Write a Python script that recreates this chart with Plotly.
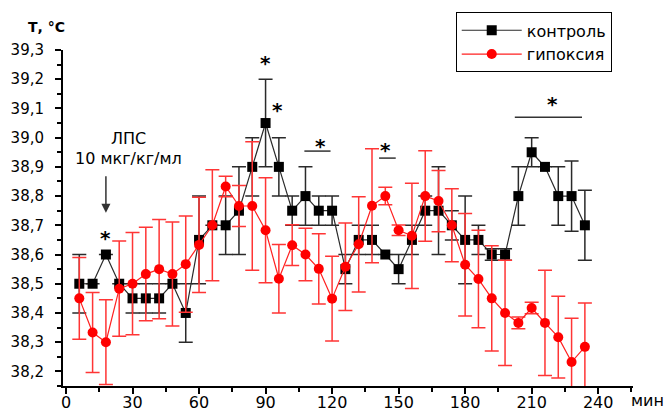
import plotly.graph_objects as go

# time points, minutes
time_min = [6, 12, 18, 24, 30, 36, 42, 48, 54, 60, 66, 72, 78, 84, 90, 96, 102, 108, 114, 120,
            126, 132, 138, 144, 150, 156, 162, 168, 174, 180, 186, 192, 198, 204, 210, 216, 222, 228, 234]

control_t = [38.50, 38.50, 38.60, 38.50, 38.45, 38.45, 38.45, 38.50, 38.40, 38.65,
             38.70, 38.70, 38.75, 38.90, 39.05, 38.90, 38.75, 38.80, 38.75, 38.75,
             38.55, 38.65, 38.65, 38.60, 38.55, 38.65, 38.75, 38.75, 38.70, 38.65,
             38.65, 38.60, 38.60, 38.80, 38.95, 38.90, 38.80, 38.80, 38.70]
control_err = [0.10, 0.0, 0.0, 0.0, 0.05, 0.05, 0.05, 0.0, 0.10, 0.15,
               0.0, 0.10, 0.15, 0.10, 0.15, 0.10, 0.05, 0.10, 0.05, 0.05,
               0.05, 0.05, 0.05, 0.0, 0.05, 0.05, 0.05, 0.15, 0.05, 0.15,
               0.05, 0.02, 0.02, 0.10, 0.05, 0.0, 0.10, 0.12, 0.12]

hypoxia_t = [38.450, 38.333, 38.300, 38.483, 38.500, 38.533, 38.550, 38.533, 38.567, 38.633,
             38.700, 38.833, 38.766, 38.766, 38.683, 38.517, 38.632, 38.600, 38.551, 38.449,
             38.558, 38.635, 38.767, 38.800, 38.683, 38.664, 38.800, 38.783, 38.700, 38.565,
             38.516, 38.450, 38.400, 38.366, 38.417, 38.366, 38.317, 38.232, 38.284]
hypoxia_err = [0.140, 0.137, 0.145, 0.163, 0.175, 0.160, 0.170, 0.178, 0.165, 0.163,
               0.190, 0.035, 0.070, 0.220, 0.180, 0.117, 0.070, 0.090, 0.120, 0.145,
               0.150, 0.163, 0.195, 0.030, 0.018, 0.180, 0.155, 0.105, 0.125, 0.175,
               0.167, 0.180, 0.180, 0.020, 0.020, 0.180, 0.140, 0.150, 0.150]

series_names = ["контроль", "гипоксия"]
x_ticks = [0, 30, 60, 90, 120, 150, 180, 210, 240]
y_ticks = [38.2, 38.3, 38.4, 38.5, 38.6, 38.7, 38.8, 38.9, 39.0, 39.1, 39.2, 39.3]

# significance marks: star positions (x, y) and bars (x0, x1, y)
star_x = [18, 90, 95.5, 114.6, 143.9, 219.4]
star_y = [38.67, 39.27, 39.11, 38.986, 38.97, 39.13]
bar_x0 = [107.5, 141.2, 202.4]
bar_x1 = [119.3, 148.7, 232.7]
bar_y = [38.954, 38.93, 39.07]

# LPS injection arrow
lps_x = 18
lps_y_from = 38.873
lps_y_to = 38.743

FONT = "DejaVu Sans"

fig = go.Figure()
fig.add_trace(go.Scatter(
    x=time_min, y=control_t, name=series_names[0], mode="lines+markers",
    line=dict(color="#2a2a2a", width=1.2),
    marker=dict(symbol="square", size=10, color="black"),
    error_y=dict(type="data", array=control_err, visible=True, color="#2a2a2a",
                 thickness=1.5, width=7),
))
fig.add_trace(go.Scatter(
    x=time_min, y=hypoxia_t, name=series_names[1], mode="lines+markers",
    line=dict(color="#ff2020", width=1.2),
    marker=dict(symbol="circle", size=10, color="#ff0000"),
    error_y=dict(type="data", array=hypoxia_err, visible=True, color="#ff3535",
                 thickness=1.5, width=7),
))

annotations = []
for sx, sy in zip(star_x, star_y):
    annotations.append(dict(x=sx, y=sy, xref="x", yref="y", text="<b>*</b>", showarrow=False,
                            font=dict(family=FONT, size=20, color="black"),
                            xanchor="center", yanchor="middle", yshift=-4))
shapes = []
for a, b, c in zip(bar_x0, bar_x1, bar_y):
    shapes.append(dict(type="line", xref="x", yref="y", x0=a, x1=b, y0=c, y1=c,
                       line=dict(color="#333333", width=1.5)))

annotations.append(dict(x=lps_x, y=lps_y_to, ax=lps_x, ay=lps_y_from, xref="x", yref="y",
                        axref="x", ayref="y", text="", showarrow=True, arrowhead=2,
                        arrowsize=1.2, arrowwidth=1.5, arrowcolor="#333333"))
annotations.append(dict(x=28, y=38.997, xref="x", yref="y", text="ЛПС", showarrow=False,
                        font=dict(family=FONT, size=16, color="black"),
                        xanchor="center", yanchor="middle"))
annotations.append(dict(x=28, y=38.928, xref="x", yref="y", text="10 мкг/кг/мл", showarrow=False,
                        font=dict(family=FONT, size=16, color="black"),
                        xanchor="center", yanchor="middle"))
annotations.append(dict(x=0.007, y=1.067, xref="paper", yref="paper", text="<b>Т, °С</b>",
                        showarrow=False, font=dict(family=FONT, size=14, color="black"),
                        xanchor="right", yanchor="middle"))
annotations.append(dict(x=1.058, y=-0.044, xref="paper", yref="paper", text="мин",
                        showarrow=False, font=dict(family=FONT, size=16, color="black"),
                        xanchor="right", yanchor="middle"))

fig.update_layout(
    width=672, height=412,
    margin=dict(l=63, r=39, t=47, b=26),
    paper_bgcolor="white", plot_bgcolor="white",
    separators=", ",
    font=dict(family=FONT, color="black"),
    showlegend=True,
    legend=dict(x=0.689, y=1.112, xanchor="left", yanchor="top",
                bordercolor="black", borderwidth=1, bgcolor="white",
                font=dict(family=FONT, size=16, color="black"),
                tracegroupgap=0, itemwidth=60),
    annotations=annotations,
    shapes=shapes,
    xaxis=dict(range=[-1.35, 255.7], tickvals=x_ticks, ticks="outside", ticklen=6, tickwidth=2,
               showline=True, linecolor="black", linewidth=2, showgrid=False, zeroline=False,
               automargin=False,
               tickfont=dict(family=FONT, size=16, color="black"), ticklabelstandoff=-5,
               minor=dict(dtick=15, tick0=0, ticks="outside", ticklen=4, tickwidth=2, tickcolor="black"),
               tickcolor="black"),
    yaxis=dict(range=[38.15, 39.3], tickvals=y_ticks, tickformat=".1f", ticks="outside", ticklen=6,
               tickwidth=2, showline=True, linecolor="black", linewidth=2, showgrid=False,
               zeroline=False, automargin=False, tickfont=dict(family=FONT, size=15, color="black"),
               minor=dict(dtick=0.05, tick0=38.2, ticks="outside", ticklen=4, tickwidth=2, tickcolor="black"),
               tickcolor="black", ticklabelstandoff=8),
)

fig.write_html(
    "out.html",
    config={"displayModeBar": False},
    post_script="document.body.style.margin='0px';document.body.style.overflow='hidden';",
)
